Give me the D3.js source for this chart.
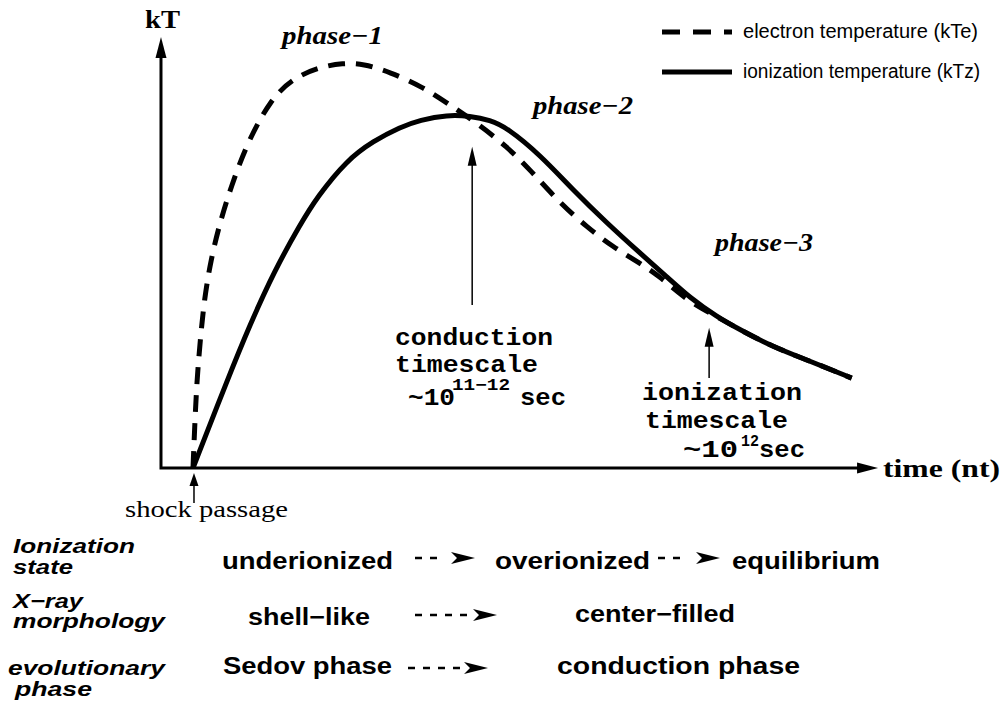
<!DOCTYPE html>
<html>
<head>
<meta charset="utf-8">
<script src="https://cdn.jsdelivr.net/npm/d3@7"></script>
<style>
body{margin:0;background:#fff;}
svg{display:block;}
.serif{font-family:"Liberation Serif","Times New Roman",serif;font-weight:bold;}
.mono{font-family:"Liberation Mono","Courier New",monospace;font-weight:bold;}
.sans{font-family:"Liberation Sans",Arial,Helvetica,sans-serif;}
</style>
</head>
<body>
<div id="canvas"></div>
<script>
// electron temperature curve (time, kT in arbitrary units)
var eTime = [0, 0.3, 0.6, 1.1, 1.7, 2.7, 4.1, 5.8, 8.2, 11.7, 15.2, 19.2, 22.7, 25.8, 29.8, 34.8, 38.5,
             43.0, 47.6, 51.1, 55.6, 59.7, 63.6, 67.7, 70.8, 74.8, 78.3, 82.9, 87.9, 93.0, 99.8];
var eTemp = [0, 11.9, 21.7, 31.6, 41.5, 51.4, 60.7, 69.6, 80.2, 90.9, 96.3, 99.0, 100, 99.8, 97.8, 94.1, 90.1,
             85.2, 79.3, 73.6, 65.4, 59.5, 54.6, 50.6, 47.2, 41.5, 38.3, 34.1, 29.9, 26.7, 22.2];

// ionization temperature curve
var zTime = [0, 5.2, 8.6, 12.4, 16.2, 18.8, 23.3, 27.3, 31.4, 34.4, 38.5, 42.0, 45.0, 47.6, 52.6, 57.6,
             62.7, 67.7, 71.8, 75.3, 79.4, 82.9, 87.9, 93.0, 99.8];
var zTemp = [0, 21.7, 35.3, 48.9, 60.0, 66.9, 76.0, 80.7, 84.2, 85.9, 87.2, 86.9, 85.9, 84.0, 77.3, 68.6,
             60.5, 53.1, 47.2, 42.0, 37.3, 34.1, 29.9, 26.7, 22.2];

var seriesNames = ['electron temperature (kTe)', 'ionization temperature (kTz)'];
var phaseLabels = ['phase\u22121', 'phase\u22122', 'phase\u22123'];
var rowLabels = [['Ionization', 'state'], ['X\u2212ray', 'morphology'], ['evolutionary', 'phase']];
var rowStages = [['underionized', 'overionized', 'equilibrium'],
                 ['shell\u2212like', 'center\u2212filled'],
                 ['Sedov phase', 'conduction phase']];
// timescale markers: time where the arrow points, kT of its tip
var markTime = [42.3, 78.2];
var markTemp = [79.3, 34.6];
var markText = [['conduction', 'timescale', '~10', '11\u221212', 'sec'],
                ['ionization', 'timescale', '~10', '12', 'sec']];

var W = 1008, H = 708;

var svg = d3.select('#canvas').append('svg')
    .attr('width', W).attr('height', H);

var x = d3.scaleLinear().domain([0, 100]).range([193, 853]);
var y = d3.scaleLinear().domain([0, 100]).range([468, 63]);

function head(tx, ty, dir, len, half){
    // filled triangle arrow head, dir: 'up' or 'right'
    if(dir == 'up'){
        return 'M'+tx+','+ty+'L'+(tx-half)+','+(ty+len)+'L'+(tx+half)+','+(ty+len)+'Z';
    }
    return 'M'+tx+','+ty+'L'+(tx-len)+','+(ty-half)+'L'+(tx-len)+','+(ty+half)+'Z';
}

function stealth(tx, ty){
    return 'M'+tx+','+ty+'L'+(tx-24)+','+(ty-6)+'L'+(tx-18)+','+ty+'L'+(tx-24)+','+(ty+6)+'Z';
}

//Axes
var ax0 = x(-4.85), axEnd = x(103.8), ayTop = y(106.4);
svg.append('path')
    .attr('d', 'M'+ax0+','+(ayTop+18)+'L'+ax0+','+y(0)+'L'+(axEnd-18)+','+y(0))
    .style('fill', 'none').style('stroke', '#000').style('stroke-width', 3)
    .style('stroke-linejoin', 'miter');
svg.append('path').attr('d', head(ax0, ayTop, 'up', 21, 5.5)).style('fill', '#000');
svg.append('path').attr('d', head(axEnd, y(0), 'right', 21, 5.5)).style('fill', '#000');

svg.append('text').attr('class', 'serif')
    .attr('x', 145).attr('y', 28)
    .attr('font-size', 25).attr('textLength', 35).attr('lengthAdjust', 'spacingAndGlyphs')
    .text('kT');
svg.append('text').attr('class', 'serif')
    .attr('x', 883).attr('y', 477)
    .attr('font-size', 25).attr('textLength', 117).attr('lengthAdjust', 'spacingAndGlyphs')
    .text('time (nt)');

//Curves
var line = d3.line()
    .x(function(d){return x(d.t);})
    .y(function(d){return y(d.k);})
    .curve(d3.curveBasis);

var eData = eTime.map(function(t, i){return {t:t, k:eTemp[i]};});
var zData = zTime.map(function(t, i){return {t:t, k:zTemp[i]};});

svg.append('path').datum(zData)
    .attr('d', line)
    .style('fill', 'none').style('stroke', '#000').style('stroke-width', 5);
svg.append('path').datum(eData)
    .attr('d', line)
    .style('fill', 'none').style('stroke', '#000').style('stroke-width', 5)
    .style('stroke-dasharray', '17,11');

//Phase labels
var phasePos = [[282, 44, 101], [533, 114, 100], [715, 251, 98]];
svg.selectAll('.phase').data(phaseLabels).enter()
    .append('text').attr('class', 'serif phase')
    .attr('x', function(d, i){return phasePos[i][0];})
    .attr('y', function(d, i){return phasePos[i][1];})
    .attr('font-size', 25).attr('font-style', 'italic')
    .attr('textLength', function(d, i){return phasePos[i][2];})
    .attr('lengthAdjust', 'spacingAndGlyphs')
    .text(function(d){return d;});

//Legend
var legY = [32, 72];
var leg = svg.selectAll('.leg').data(seriesNames).enter()
    .append('g').attr('class', 'leg')
    .attr('transform', function(d, i){return 'translate(0,'+legY[i]+')';});
leg.append('line')
    .attr('x1', 662).attr('x2', 732)
    .style('stroke', '#000').style('stroke-width', 5)
    .style('stroke-dasharray', function(d, i){return i == 0 ? '18,13' : null;});
leg.append('text').attr('class', 'sans')
    .attr('x', 743).attr('y', 6)
    .attr('font-size', 20)
    .attr('textLength', function(d, i){return i == 0 ? 235 : 237;})
    .attr('lengthAdjust', 'spacingAndGlyphs')
    .text(function(d){return d;});

//Timescale markers
var markLineEnd = [305, 378];
markTime.forEach(function(t, i){
    var mx = x(t), my = y(markTemp[i]);
    svg.append('line')
        .attr('x1', mx).attr('x2', mx).attr('y1', my + 10).attr('y2', markLineEnd[i])
        .style('stroke', '#000').style('stroke-width', 1.5);
    svg.append('path').attr('d', head(mx, my, 'up', 19, 4.5)).style('fill', '#000');
});

// text blocks: [x, y, font size, textLength]
var markLayout = [
    [[395, 345, 24, 158], [395, 372, 24, 143], [408, 405, 24, 47], [452, 390, 16, 58], [520, 405, 24, 46]],
    [[642, 400, 24, 160], [645, 428, 24, 143], [683, 457, 24, 55], [741, 446, 16, 18], [759, 457, 24, 46]]
];
markText.forEach(function(block, i){
    svg.selectAll('.mk'+i).data(block).enter()
        .append('text').attr('class', 'mono mk'+i)
        .attr('x', function(d, j){return markLayout[i][j][0];})
        .attr('y', function(d, j){return markLayout[i][j][1];})
        .attr('font-size', function(d, j){return markLayout[i][j][2];})
        .attr('textLength', function(d, j){return markLayout[i][j][3];})
        .attr('lengthAdjust', 'spacingAndGlyphs')
        .text(function(d){return d;});
});

//Shock passage
svg.append('line')
    .attr('x1', x(0.15)).attr('x2', x(0.15)).attr('y1', y(0) + 14).attr('y2', 503)
    .style('stroke', '#000').style('stroke-width', 1.5);
svg.append('path').attr('d', head(x(0.15), y(0) + 5, 'up', 13, 4.5)).style('fill', '#000');
svg.append('text').attr('class', 'serif')
    .attr('x', 125).attr('y', 517)
    .style('font-weight', 'normal').attr('font-size', 23)
    .attr('textLength', 163).attr('lengthAdjust', 'spacingAndGlyphs')
    .text('shock passage');

//Bottom table
var labelPos = [[[13, 553, 122], [13, 574, 60]],
                [[13, 608, 70], [13, 628, 152]],
                [[8, 675, 157], [15, 696, 77]]];
rowLabels.forEach(function(pair, i){
    pair.forEach(function(s, j){
        svg.append('text').attr('class', 'sans')
            .attr('x', labelPos[i][j][0]).attr('y', labelPos[i][j][1])
            .attr('font-size', 21).attr('font-weight', 'bold').attr('font-style', 'italic')
            .attr('textLength', labelPos[i][j][2]).attr('lengthAdjust', 'spacingAndGlyphs')
            .text(s);
    });
});

var stagePos = [[[222, 569, 171], [495, 569, 155], [732, 569, 148]],
                [[248, 625, 122], [575, 622, 160]],
                [[223, 674, 169], [557, 674, 243]]];
rowStages.forEach(function(row, i){
    row.forEach(function(s, j){
        svg.append('text').attr('class', 'sans')
            .attr('x', stagePos[i][j][0]).attr('y', stagePos[i][j][1])
            .attr('font-size', 23).attr('font-weight', 'bold')
            .attr('textLength', stagePos[i][j][2]).attr('lengthAdjust', 'spacingAndGlyphs')
            .text(s);
    });
});

// dashed arrows between stages: [start x, tip x, y, dashes]
var rowArrows = [[415, 475, 558, 2], [658, 720, 558, 2], [415, 497, 615, 4], [408, 488, 668, 4]];
rowArrows.forEach(function(a){
    svg.append('line')
        .attr('x1', a[0]).attr('x2', a[0] + a[3]*15 - 8)
        .attr('y1', a[2]).attr('y2', a[2])
        .style('stroke', '#000').style('stroke-width', 2.5)
        .style('stroke-dasharray', '7,8');
    svg.append('path').attr('d', stealth(a[1], a[2])).style('fill', '#000');
});
</script>
</body>
</html>
